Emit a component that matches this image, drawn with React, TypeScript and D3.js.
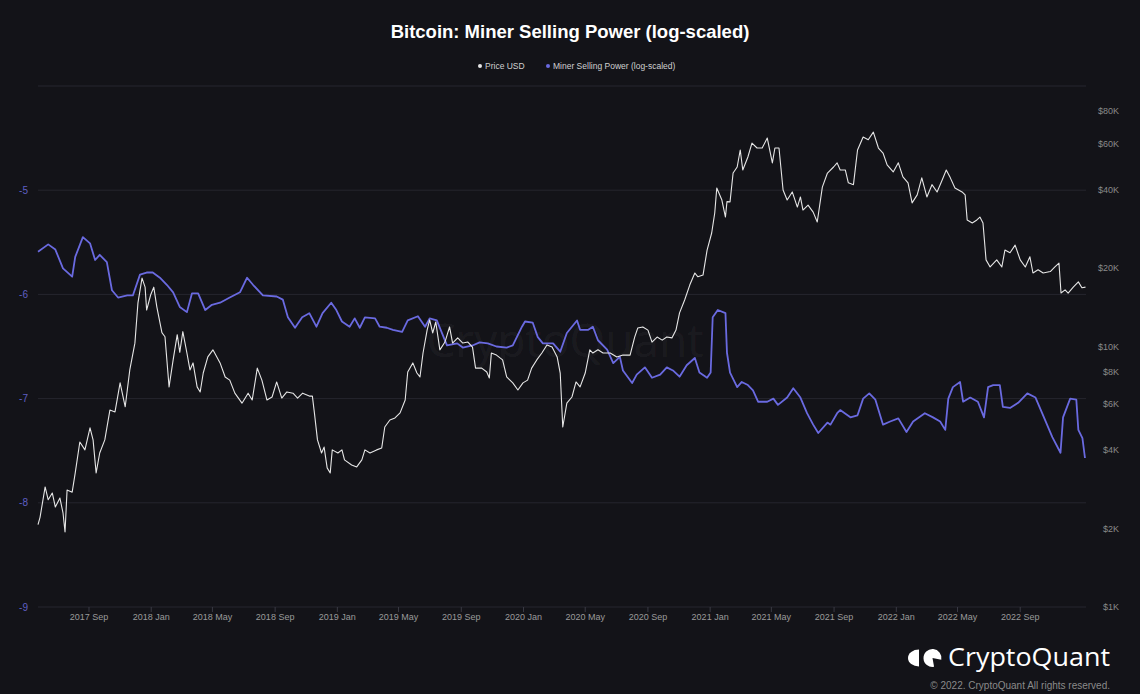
import React from "react";
import * as d3 from "d3";

const TITLE = "Bitcoin: Miner Selling Power (log-scaled)";
const LEGEND = ["Price USD", "Miner Selling Power (log-scaled)"];

const leftTicks = [-9, -8, -7, -6, -5, -4];
const leftLabelTicks = [-9, -8, -7, -6, -5];
const rightTicks = [1000, 2000, 4000, 6000, 8000, 10000, 20000, 40000, 60000, 80000];
const xTickDates = [
  "2017-09-01", "2018-01-01", "2018-05-01", "2018-09-01", "2019-01-01", "2019-05-01",
  "2019-09-01", "2020-01-01", "2020-05-01", "2020-09-01", "2021-01-01", "2021-05-01",
  "2021-09-01", "2022-01-01", "2022-05-01", "2022-09-01",
];

const priceDates = [
  "2017-05-24","2017-05-28","2017-06-07","2017-06-13","2017-06-21","2017-06-27","2017-07-06","2017-07-12","2017-07-16","2017-07-20",
  "2017-07-30","2017-08-05","2017-08-14","2017-08-24","2017-09-03","2017-09-09","2017-09-15","2017-09-22","2017-10-02","2017-10-12",
  "2017-10-22","2017-11-01","2017-11-11","2017-11-20","2017-11-30","2017-12-06","2017-12-14","2017-12-20","2017-12-23","2017-12-31",
  "2018-01-06","2018-01-12","2018-01-22","2018-01-28","2018-02-05","2018-02-13","2018-02-21","2018-02-26","2018-03-04","2018-03-12",
  "2018-03-18","2018-03-24","2018-04-01","2018-04-07","2018-04-13","2018-04-22","2018-05-02","2018-05-16","2018-05-26","2018-06-04",
  "2018-06-14","2018-06-28","2018-07-10","2018-07-18","2018-07-28","2018-08-06","2018-08-16","2018-08-26","2018-09-04","2018-09-14",
  "2018-09-24","2018-10-06","2018-10-15","2018-10-25","2018-11-07","2018-11-13","2018-11-17","2018-11-23","2018-12-01","2018-12-06",
  "2018-12-12","2018-12-18","2018-12-22","2019-01-02","2019-01-10","2019-01-15","2019-01-29","2019-02-08","2019-02-18","2019-02-24",
  "2019-03-06","2019-03-19","2019-03-29","2019-04-04","2019-04-14","2019-04-24","2019-05-04","2019-05-14","2019-05-19","2019-05-29",
  "2019-06-06","2019-06-12","2019-06-18","2019-06-26","2019-07-01","2019-07-07","2019-07-13","2019-07-21","2019-07-31","2019-08-09",
  "2019-08-15","2019-08-25","2019-09-04","2019-09-14","2019-09-23","2019-09-29","2019-10-11","2019-10-21","2019-10-26","2019-10-30",
  "2019-11-09","2019-11-21","2019-11-29","2019-12-11","2019-12-21","2019-12-31","2020-01-09","2020-01-17","2020-01-27","2020-02-06",
  "2020-02-16","2020-02-26","2020-03-07","2020-03-13","2020-03-18","2020-03-26","2020-04-05","2020-04-13","2020-04-21","2020-05-01",
  "2020-05-10","2020-05-16","2020-05-26","2020-06-05","2020-06-19","2020-07-02","2020-07-14","2020-07-28","2020-08-06","2020-08-12",
  "2020-08-22","2020-09-01","2020-09-09","2020-09-19","2020-09-29","2020-10-08","2020-10-18","2020-10-26","2020-11-02","2020-11-12",
  "2020-11-22","2020-12-02","2020-12-08","2020-12-18","2020-12-26","2021-01-04","2021-01-10","2021-01-14","2021-01-24","2021-01-31",
  "2021-02-03","2021-02-09","2021-02-15","2021-02-23","2021-03-01","2021-03-06","2021-03-16","2021-03-24","2021-04-03","2021-04-13",
  "2021-04-23","2021-05-03","2021-05-08","2021-05-16","2021-05-24","2021-06-01","2021-06-11","2021-06-21","2021-06-27","2021-07-02",
  "2021-07-12","2021-07-22","2021-07-30","2021-08-09","2021-08-19","2021-08-31","2021-09-07","2021-09-13","2021-09-23","2021-09-29",
  "2021-10-09","2021-10-17","2021-10-28","2021-11-07","2021-11-17","2021-11-27","2021-12-06","2021-12-14","2021-12-26","2022-01-05",
  "2022-01-14","2022-01-24","2022-02-01","2022-02-11","2022-02-20","2022-03-02","2022-03-12","2022-03-22","2022-04-01","2022-04-09",
  "2022-04-17","2022-04-26","2022-05-10","2022-05-16","2022-05-20","2022-05-30","2022-06-08","2022-06-14","2022-06-20","2022-06-26",
  "2022-07-04","2022-07-17","2022-07-27","2022-08-02","2022-08-12","2022-08-22","2022-09-01","2022-09-11","2022-09-20","2022-09-26",
  "2022-10-06","2022-10-16","2022-10-30","2022-11-08","2022-11-16","2022-11-20","2022-11-28","2022-12-04","2022-12-14","2022-12-24",
  "2022-12-31","2023-01-07",
];
const priceValues = [
  2070,2210,2890,2580,2740,2420,2620,2300,1940,2810,
  2760,3270,4300,4010,4870,4380,3270,3900,4380,5700,
  5610,7250,5870,8130,10300,14700,18300,16900,13800,15800,
  16900,14200,11300,10900,7000,8880,11100,9500,11400,9440,
  8130,8650,7000,6690,7910,9120,9710,8650,7640,7430,
  6620,6060,6620,6230,8260,7430,6230,6400,7310,6340,
  6690,6620,6340,6620,6450,6450,5560,4380,3900,4110,
  3420,3270,4010,3900,4010,3670,3510,3450,3670,4010,
  3900,4010,4080,4910,5220,5320,5560,6230,7980,8650,
  7910,7640,9440,11560,12640,11270,12420,9710,10400,11890,
  10310,10790,10310,10400,9950,8260,8260,7980,7570,9440,
  9270,8880,7640,7250,6810,7250,7430,8260,8880,9440,
  10140,9950,9120,7910,4910,6060,6400,7310,7000,7910,
  9710,9440,9710,9440,9440,9120,9270,9270,10870,11770,
  11890,11560,10400,10870,10580,10870,10790,11560,13460,15080,
  17210,19150,18520,18800,23450,27270,32540,40570,36480,31400,
  36000,35900,46340,48870,56800,47600,53400,60400,57800,57800,
  63100,50700,57800,57800,39900,36500,39200,34300,37500,33400,
  34900,32800,30060,40900,46340,48870,50700,47600,47600,42500,
  41800,56800,63700,62200,66500,57800,55300,49800,46800,50700,
  44800,42500,35600,38200,44400,37500,41800,39200,43600,47600,
  44400,40600,39200,38200,30600,29800,30600,31400,29800,21500,
  20200,21500,20200,23450,22900,24500,21500,20200,22100,19150,
  19700,19150,19400,20200,20900,16040,16500,16040,16900,17700,
  16800,16900,
];

const mspDates = [
  "2017-05-24","2017-06-13","2017-06-27","2017-07-12","2017-07-30","2017-08-05","2017-08-20","2017-09-03","2017-09-13","2017-09-22",
  "2017-10-06","2017-10-16","2017-10-28","2017-11-15","2017-11-26","2017-12-10","2017-12-23","2018-01-04","2018-01-18","2018-02-01",
  "2018-02-13","2018-02-26","2018-03-12","2018-03-22","2018-04-03","2018-04-17","2018-04-30","2018-05-16","2018-06-04","2018-06-24",
  "2018-07-08","2018-07-20","2018-08-08","2018-09-04","2018-09-16","2018-09-26","2018-10-10","2018-10-24","2018-11-07","2018-11-21",
  "2018-12-03","2018-12-20","2018-12-30","2019-01-10","2019-01-25","2019-02-04","2019-02-14","2019-02-24","2019-03-16","2019-03-25",
  "2019-04-08","2019-04-20","2019-05-08","2019-05-19","2019-06-08","2019-06-22","2019-07-01","2019-07-15","2019-08-04","2019-08-24",
  "2019-09-04","2019-09-23","2019-10-07","2019-10-23","2019-11-09","2019-11-29","2019-12-11","2019-12-29","2020-01-04","2020-01-19",
  "2020-01-29","2020-02-08","2020-02-28","2020-03-13","2020-03-26","2020-04-15","2020-04-21","2020-05-07","2020-05-16","2020-05-26",
  "2020-06-13","2020-06-25","2020-07-08","2020-07-14","2020-08-01","2020-08-10","2020-08-26","2020-09-09","2020-09-25","2020-10-08",
  "2020-10-20","2020-11-02","2020-11-16","2020-12-02","2020-12-11","2020-12-26","2021-01-02","2021-01-06","2021-01-16","2021-01-31",
  "2021-02-03","2021-02-09","2021-02-23","2021-03-04","2021-03-16","2021-03-26","2021-04-05","2021-04-23","2021-05-05","2021-05-14",
  "2021-06-01","2021-06-13","2021-06-27","2021-07-10","2021-07-22","2021-08-01","2021-08-19","2021-08-25","2021-09-07","2021-09-13",
  "2021-10-03","2021-10-17","2021-10-28","2021-11-09","2021-11-21","2021-12-06","2021-12-20","2022-01-05","2022-01-21","2022-02-03",
  "2022-02-26","2022-03-14","2022-03-28","2022-04-07","2022-04-13","2022-04-22","2022-05-06","2022-05-12","2022-05-26","2022-06-10",
  "2022-06-22","2022-06-30","2022-07-10","2022-07-23","2022-07-29","2022-08-12","2022-08-28","2022-09-15","2022-10-01","2022-10-14",
  "2022-11-03","2022-11-19","2022-11-24","2022-12-08","2022-12-20","2022-12-24","2023-01-01","2023-01-06",
];
const mspValues = [
  -5.59,-5.52,-5.57,-5.75,-5.83,-5.64,-5.45,-5.51,-5.67,-5.62,
  -5.69,-5.96,-6.03,-6.01,-6.01,-5.81,-5.79,-5.79,-5.84,-5.91,
  -5.98,-6.12,-6.17,-5.99,-5.99,-6.15,-6.10,-6.08,-6.03,-5.98,
  -5.84,-5.91,-6.01,-6.02,-6.05,-6.22,-6.32,-6.22,-6.18,-6.31,
  -6.18,-6.08,-6.15,-6.26,-6.31,-6.23,-6.32,-6.22,-6.23,-6.31,
  -6.32,-6.34,-6.36,-6.25,-6.21,-6.31,-6.23,-6.25,-6.49,-6.47,
  -6.51,-6.49,-6.46,-6.47,-6.50,-6.51,-6.49,-6.31,-6.26,-6.27,
  -6.41,-6.47,-6.47,-6.55,-6.37,-6.25,-6.34,-6.34,-6.31,-6.44,
  -6.53,-6.66,-6.60,-6.73,-6.85,-6.77,-6.70,-6.80,-6.77,-6.70,
  -6.73,-6.79,-6.68,-6.61,-6.75,-6.80,-6.75,-6.22,-6.15,-6.18,
  -6.56,-6.75,-6.89,-6.84,-6.87,-6.92,-7.03,-7.03,-7.00,-7.06,
  -6.99,-6.90,-6.99,-7.14,-7.25,-7.33,-7.23,-7.25,-7.14,-7.11,
  -7.18,-7.16,-7.00,-6.95,-7.01,-7.25,-7.22,-7.19,-7.32,-7.22,
  -7.14,-7.18,-7.22,-7.30,-7.00,-6.89,-6.84,-7.03,-6.99,-7.03,
  -7.18,-6.89,-6.87,-6.87,-7.08,-7.09,-7.04,-6.95,-6.99,-7.14,
  -7.37,-7.52,-7.18,-7.00,-7.01,-7.30,-7.38,-7.57,
];

const W = 1140;
const H = 694;
const M = { left: 38, right: 1086, top: 86, bottom: 607 };
const BG = "#131318";
const PRICE_COLOR = "#e6e6e6";
const MSP_COLOR = "#6a6ae0";
const GRID = "#26262e";
const FONT = "'Liberation Sans', Arial, sans-serif";

const parse = d3.timeParse("%Y-%m-%d");

export default function App() {
  const x = d3
    .scaleTime()
    .domain([parse("2017-05-24")!, parse("2023-01-08")!])
    .range([M.left, M.right]);
  const yL = d3.scaleLinear().domain([-9, -4]).range([M.bottom, M.top]);
  const yR = d3.scaleLog().domain([1000, 100000]).range([M.bottom, M.top]);

  const priceData = priceDates.map((d, i) => ({ d: parse(d)!, v: priceValues[i] }));
  const mspData = mspDates.map((d, i) => ({ d: parse(d)!, v: mspValues[i] }));

  const priceLine = d3
    .line<{ d: Date; v: number }>()
    .x((p) => x(p.d))
    .y((p) => yR(p.v));
  const mspLine = d3
    .line<{ d: Date; v: number }>()
    .x((p) => x(p.d))
    .y((p) => yL(p.v));

  const fmtX = d3.timeFormat("%Y %b");
  const fmtR = (v: number) => `$${v / 1000}K`;

  const lc = { x: 932.5, y: 658, r: 9 };
  const ang = (a: number) => [lc.x + lc.r * Math.cos((a * Math.PI) / 180), lc.y + lc.r * Math.sin((a * Math.PI) / 180)];
  const p1 = ang(80);
  const p2 = ang(12);

  return (
    <svg
      width={W}
      height={H}
      style={{ position: "fixed", left: 0, top: 0, display: "block", background: BG }}
      fontFamily={FONT}
    >
      <rect x={0} y={0} width={W} height={H} fill={BG} />
      <text x={570} y={38} textAnchor="middle" fill="#ffffff" fontSize={18.5} fontWeight="bold">
        {TITLE}
      </text>
      <g fontSize={8.5} fill="#d0d0d0">
        <circle cx={480} cy={66} r={2} fill={PRICE_COLOR} />
        <text x={485} y={69}>{LEGEND[0]}</text>
        <circle cx={548} cy={66} r={2} fill={MSP_COLOR} />
        <text x={553} y={69}>{LEGEND[1]}</text>
      </g>
      {leftTicks.map((t) => (
        <line key={t} x1={M.left} x2={M.right} y1={yL(t)} y2={yL(t)} stroke={GRID} strokeWidth={1} />
      ))}
      <text x={565} y={357} textAnchor="middle" fontSize={46} fill="#ffffff" fillOpacity={0.055} fontFamily="'Open Sans', sans-serif">
        CryptoQuant
      </text>
      {leftLabelTicks.map((t) => (
        <text key={t} x={28} y={yL(t) + 3.5} textAnchor="end" fontSize={10} fill="#5f5fc4">
          {t}
        </text>
      ))}
      {rightTicks.map((t) => (
        <text key={t} x={1119} y={yR(t) + 3} textAnchor="end" fontSize={9} fill="#8a8a8a">
          {fmtR(t)}
        </text>
      ))}
      {xTickDates.map((s) => {
        const d = parse(s)!;
        const xx = x(d);
        return (
          <g key={s}>
            <line x1={xx} x2={xx} y1={M.bottom} y2={M.bottom + 5} stroke="#3a3a44" />
            <text x={xx} y={620} textAnchor="middle" fontSize={9} fill="#9a9a9a">
              {fmtX(d)}
            </text>
          </g>
        );
      })}
      <path d={mspLine(mspData) || ""} fill="none" stroke={MSP_COLOR} strokeWidth={1.8} strokeLinejoin="round" />
      <path d={priceLine(priceData) || ""} fill="none" stroke={PRICE_COLOR} strokeWidth={1.1} strokeLinejoin="round" />
      <path d={`M 919 649.5 A 11 8.5 0 0 0 919 666.5 Z`} fill="#ffffff" />
      <path
        d={`M ${lc.x} ${lc.y} L ${p1[0]} ${p1[1]} A ${lc.r} ${lc.r} 0 1 1 ${p2[0]} ${p2[1]} Z`}
        fill="#ffffff"
      />
      <text x={1110} y={666} textAnchor="end" fontSize={25} fill="#ffffff" fontFamily="'Open Sans', sans-serif" textLength={162} lengthAdjust="spacingAndGlyphs">
        CryptoQuant
      </text>
      <text x={1110} y={689} textAnchor="end" fontSize={10} fill="#8a8a8a">
        © 2022. CryptoQuant All rights reserved.
      </text>
    </svg>
  );
}
